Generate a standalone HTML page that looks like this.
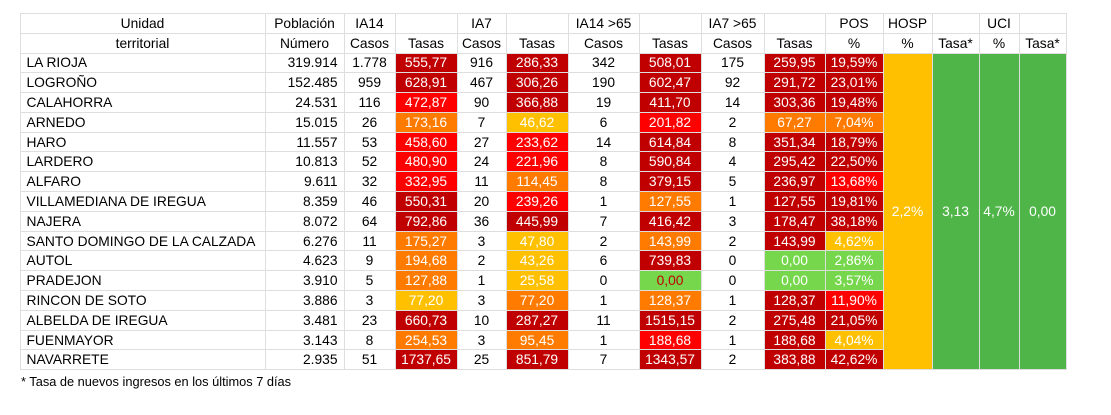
<!DOCTYPE html>
<html><head><meta charset="utf-8"><style>
html,body{margin:0;padding:0;background:#fff;width:1111px;height:415px;overflow:hidden}
body{font-family:"Liberation Sans",Arial,sans-serif;font-size:13.8px;color:#000;position:relative}
table{position:absolute;left:19.5px;top:12.5px;border-collapse:collapse;table-layout:fixed}
td{border:1px solid #dedede;padding:0;text-align:center;white-space:nowrap;overflow:hidden;line-height:17px}
tr.h td{height:19px}
tr.d td{height:18.8px}
td.n{text-align:left;padding-left:6px}
td.p{text-align:right;padding-right:6px}
.D{background:#c00000;color:#fff}
.R{background:#ff0000;color:#fff}
.O{background:#ff7b00;color:#fff}
.Y{background:#ffc000;color:#fff}
.G{background:#76d74c;color:#fff}
.GR{background:#76d74c;color:#c00000}
.HO{background:#ffc000;color:#fff}
.GM{background:#4fb548;color:#fff}
.foot{position:absolute;left:21px;top:374px;font-size:12.8px}
</style></head><body>
<table>
<colgroup>
<col style="width:245px"><col style="width:79px"><col style="width:51px"><col style="width:62px"><col style="width:49px"><col style="width:62px"><col style="width:71px"><col style="width:62px"><col style="width:63px"><col style="width:61px"><col style="width:58px"><col style="width:49px"><col style="width:47px"><col style="width:40px"><col style="width:47px">
</colgroup>
<tr class="h"><td>Unidad</td><td>Población</td><td>IA14</td><td></td><td>IA7</td><td></td><td>IA14 &gt;65</td><td></td><td>IA7 &gt;65</td><td></td><td>POS</td><td>HOSP</td><td></td><td>UCI</td><td></td></tr>
<tr class="h"><td>territorial</td><td>Número</td><td>Casos</td><td>Tasas</td><td>Casos</td><td>Tasas</td><td>Casos</td><td>Tasas</td><td>Casos</td><td>Tasas</td><td>%</td><td>%</td><td>Tasa*</td><td>%</td><td>Tasa*</td></tr>
<tr class="d"><td class="n">LA RIOJA</td><td class="p">319.914</td><td>1.778</td><td class="D">555,77</td><td>916</td><td class="D">286,33</td><td>342</td><td class="D">508,01</td><td>175</td><td class="D">259,95</td><td class="D">19,59%</td>
<td class="HO" rowspan="16">2,2%</td><td class="GM" rowspan="16">3,13</td><td class="GM" rowspan="16">4,7%</td><td class="GM" rowspan="16">0,00</td></tr>
<tr class="d"><td class="n">LOGROÑO</td><td class="p">152.485</td><td>959</td><td class="D">628,91</td><td>467</td><td class="D">306,26</td><td>190</td><td class="D">602,47</td><td>92</td><td class="D">291,72</td><td class="D">23,01%</td></tr>
<tr class="d"><td class="n">CALAHORRA</td><td class="p">24.531</td><td>116</td><td class="R">472,87</td><td>90</td><td class="D">366,88</td><td>19</td><td class="D">411,70</td><td>14</td><td class="D">303,36</td><td class="D">19,48%</td></tr>
<tr class="d"><td class="n">ARNEDO</td><td class="p">15.015</td><td>26</td><td class="O">173,16</td><td>7</td><td class="Y">46,62</td><td>6</td><td class="R">201,82</td><td>2</td><td class="O">67,27</td><td class="O">7,04%</td></tr>
<tr class="d"><td class="n">HARO</td><td class="p">11.557</td><td>53</td><td class="R">458,60</td><td>27</td><td class="R">233,62</td><td>14</td><td class="D">614,84</td><td>8</td><td class="D">351,34</td><td class="D">18,79%</td></tr>
<tr class="d"><td class="n">LARDERO</td><td class="p">10.813</td><td>52</td><td class="R">480,90</td><td>24</td><td class="R">221,96</td><td>8</td><td class="D">590,84</td><td>4</td><td class="D">295,42</td><td class="D">22,50%</td></tr>
<tr class="d"><td class="n">ALFARO</td><td class="p">9.611</td><td>32</td><td class="R">332,95</td><td>11</td><td class="O">114,45</td><td>8</td><td class="D">379,15</td><td>5</td><td class="D">236,97</td><td class="R">13,68%</td></tr>
<tr class="d"><td class="n">VILLAMEDIANA DE IREGUA</td><td class="p">8.359</td><td>46</td><td class="D">550,31</td><td>20</td><td class="R">239,26</td><td>1</td><td class="O">127,55</td><td>1</td><td class="D">127,55</td><td class="D">19,81%</td></tr>
<tr class="d"><td class="n">NAJERA</td><td class="p">8.072</td><td>64</td><td class="D">792,86</td><td>36</td><td class="D">445,99</td><td>7</td><td class="D">416,42</td><td>3</td><td class="D">178,47</td><td class="D">38,18%</td></tr>
<tr class="d"><td class="n">SANTO DOMINGO DE LA CALZADA</td><td class="p">6.276</td><td>11</td><td class="O">175,27</td><td>3</td><td class="Y">47,80</td><td>2</td><td class="O">143,99</td><td>2</td><td class="D">143,99</td><td class="Y">4,62%</td></tr>
<tr class="d"><td class="n">AUTOL</td><td class="p">4.623</td><td>9</td><td class="O">194,68</td><td>2</td><td class="Y">43,26</td><td>6</td><td class="D">739,83</td><td>0</td><td class="G">0,00</td><td class="G">2,86%</td></tr>
<tr class="d"><td class="n">PRADEJON</td><td class="p">3.910</td><td>5</td><td class="O">127,88</td><td>1</td><td class="Y">25,58</td><td>0</td><td class="GR">0,00</td><td>0</td><td class="G">0,00</td><td class="G">3,57%</td></tr>
<tr class="d"><td class="n">RINCON DE SOTO</td><td class="p">3.886</td><td>3</td><td class="Y">77,20</td><td>3</td><td class="O">77,20</td><td>1</td><td class="O">128,37</td><td>1</td><td class="D">128,37</td><td class="R">11,90%</td></tr>
<tr class="d"><td class="n">ALBELDA DE IREGUA</td><td class="p">3.481</td><td>23</td><td class="D">660,73</td><td>10</td><td class="D">287,27</td><td>11</td><td class="D">1515,15</td><td>2</td><td class="D">275,48</td><td class="D">21,05%</td></tr>
<tr class="d"><td class="n">FUENMAYOR</td><td class="p">3.143</td><td>8</td><td class="O">254,53</td><td>3</td><td class="O">95,45</td><td>1</td><td class="R">188,68</td><td>1</td><td class="D">188,68</td><td class="Y">4,04%</td></tr>
<tr class="d"><td class="n">NAVARRETE</td><td class="p">2.935</td><td>51</td><td class="D">1737,65</td><td>25</td><td class="D">851,79</td><td>7</td><td class="D">1343,57</td><td>2</td><td class="D">383,88</td><td class="D">42,62%</td></tr>
</table>
<div class="foot">* Tasa de nuevos ingresos en los últimos 7 días</div>
</body></html>
